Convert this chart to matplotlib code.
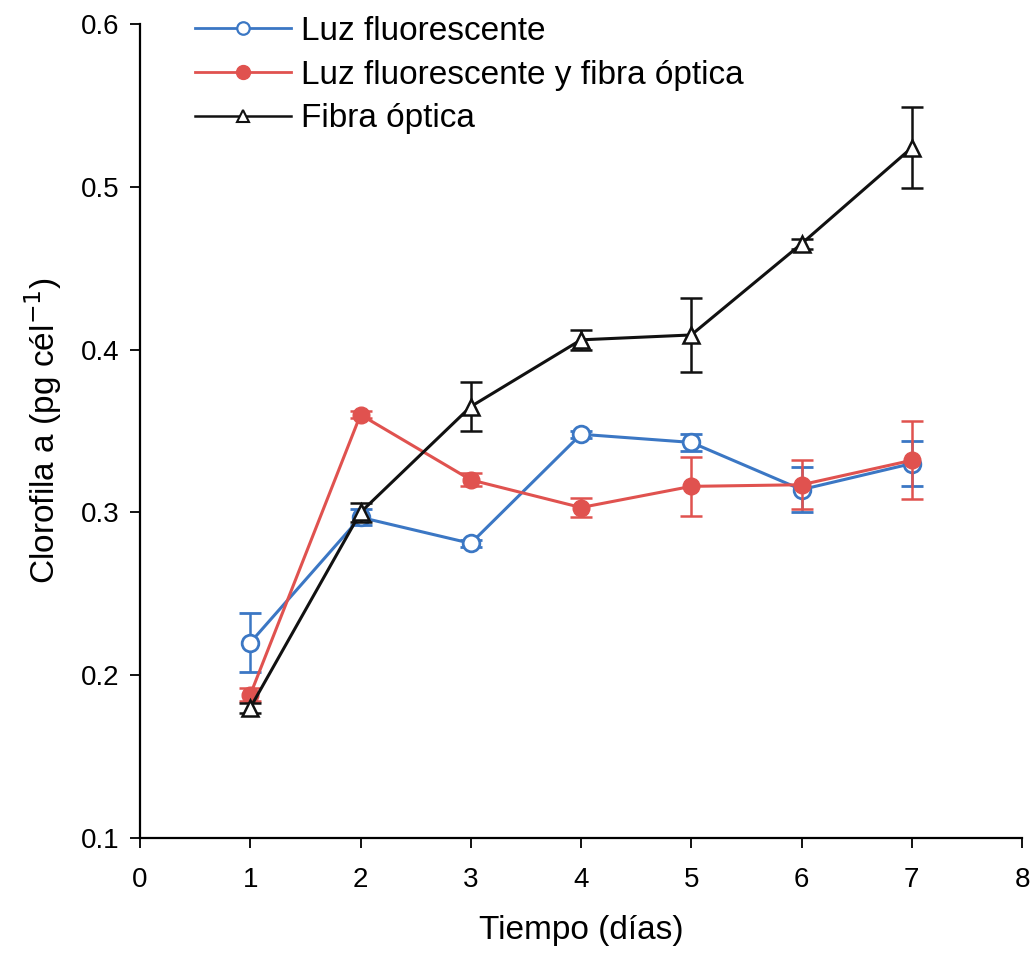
import matplotlib
matplotlib.use("Agg")
import matplotlib.pyplot as plt
from matplotlib.lines import Line2D

plt.rcParams['font.family'] = ['Liberation Sans', 'DejaVu Sans']

days = [1, 2, 3, 4, 5, 6, 7]

luz = [0.220, 0.297, 0.281, 0.348, 0.343, 0.314, 0.330]
luz_err = [0.018, 0.005, 0.002, 0.002, 0.005, 0.014, 0.014]

luz_fibra = [0.188, 0.360, 0.320, 0.303, 0.316, 0.317, 0.332]
luz_fibra_err = [0.004, 0.002, 0.004, 0.006, 0.018, 0.015, 0.024]

fibra = [0.180, 0.300, 0.365, 0.406, 0.409, 0.465, 0.524]
fibra_err = [0.003, 0.006, 0.015, 0.006, 0.023, 0.003, 0.025]

labels = ["Luz fluorescente", "Luz fluorescente y fibra óptica", "Fibra óptica"]
xticks = [0, 1, 2, 3, 4, 5, 6, 7, 8]
yticks = [0.1, 0.2, 0.3, 0.4, 0.5, 0.6]

blue = '#3b77c4'
red = '#e0524f'
black = '#111111'

fig = plt.figure(figsize=(10.34, 9.56), dpi=100)
ax = fig.add_axes([0.1354, 0.1234, 0.8530, 0.8515])

ax.errorbar(days, luz, yerr=luz_err, color=blue, marker='o', markersize=12,
            markerfacecolor='white', markeredgecolor=blue, markeredgewidth=2,
            linewidth=2.2, capsize=8, elinewidth=1.8, capthick=1.8, zorder=3)
ax.errorbar(days, luz_fibra, yerr=luz_fibra_err, color=red, marker='o', markersize=12,
            markerfacecolor=red, markeredgecolor=red,
            linewidth=2.2, capsize=8, elinewidth=1.8, capthick=1.8, zorder=4)
ax.errorbar(days, fibra, yerr=fibra_err, color=black, marker='^', markersize=12,
            markerfacecolor='white', markeredgecolor=black, markeredgewidth=1.8,
            linewidth=2.2, capsize=8, elinewidth=1.8, capthick=1.8, zorder=5)

ax.set_xlim(0, 8)
ax.set_ylim(0.1, 0.6)
ax.set_xticks(xticks)
ax.set_yticks(yticks)
ax.set_yticklabels([f"{v:.1f}" for v in yticks])
ax.tick_params(direction='out', length=7, width=1.3, labelsize=20)
ax.tick_params(axis='x', pad=14)
ax.tick_params(axis='y', pad=8)
for s in ['top', 'right']:
    ax.spines[s].set_visible(False)
for s in ['left', 'bottom']:
    ax.spines[s].set_linewidth(1.6)

ax.set_xlabel("Tiempo (días)", fontsize=24, labelpad=16)
ax.set_ylabel("Clorofila a (pg cél$^{-1}$)", fontsize=24, labelpad=12)

handles = [
    Line2D([], [], color=blue, lw=2, marker='o', markersize=9,
           markerfacecolor='white', markeredgecolor=blue, markeredgewidth=1.6),
    Line2D([], [], color=red, lw=2, marker='o', markersize=10,
           markerfacecolor=red, markeredgecolor=red),
    Line2D([], [], color=black, lw=1.8, marker='^', markersize=9,
           markerfacecolor='white', markeredgecolor=black, markeredgewidth=1.5),
]
ax.legend(handles, labels, loc='upper left', bbox_to_anchor=(0.062, 1.010),
          frameon=False, fontsize=24, handlelength=2.9, handletextpad=0.3,
          labelspacing=0.38, borderpad=0, borderaxespad=0)

fig.savefig("out.png", dpi=100)
